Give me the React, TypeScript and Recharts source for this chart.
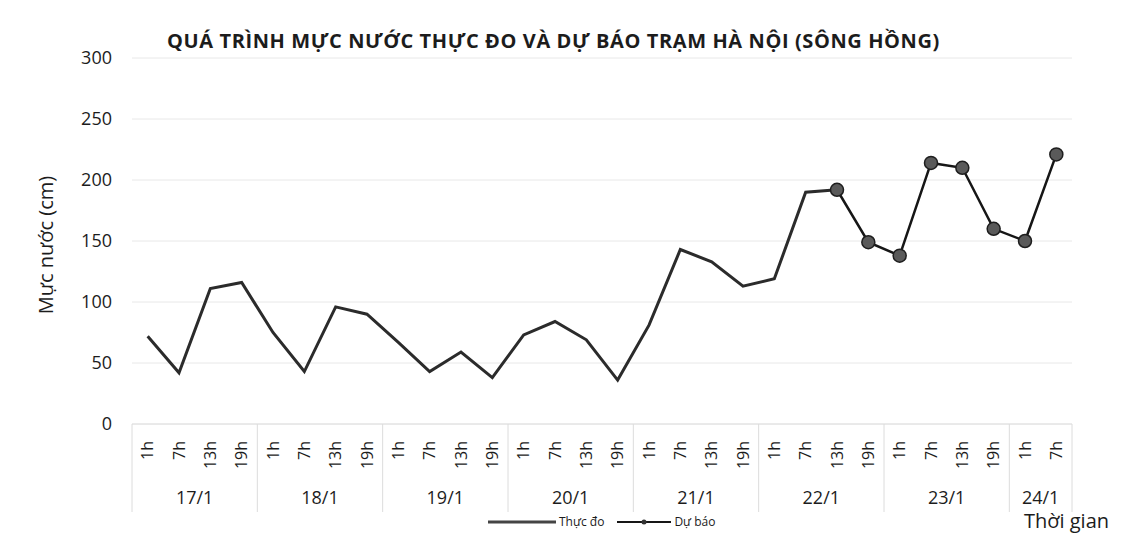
import { LineChart, Line, XAxis, YAxis, CartesianGrid } from "recharts";

// categories (hour of day) grouped by date
const days = ["17/1", "18/1", "19/1", "20/1", "21/1", "22/1", "23/1", "24/1"];
const hoursPerDay = [
  ["1h", "7h", "13h", "19h"],
  ["1h", "7h", "13h", "19h"],
  ["1h", "7h", "13h", "19h"],
  ["1h", "7h", "13h", "19h"],
  ["1h", "7h", "13h", "19h"],
  ["1h", "7h", "13h", "19h"],
  ["1h", "7h", "13h", "19h"],
  ["1h", "7h"],
];

// Thực đo (measured), cm — 17/1 1h .. 22/1 13h
const thucDo = [72, 42, 111, 116, 75, 43, 96, 90, 67, 43, 59, 38, 73, 84, 69, 36, 81, 143, 133, 113, 119, 190, 192];
// Dự báo (forecast), cm — 22/1 13h .. 24/1 7h
const duBao = [192, 149, 138, 214, 210, 160, 150, 221];
const forecastStart = 22;

const yTicks = [0, 50, 100, 150, 200, 250, 300];

const data = days.flatMap((day, d) =>
  hoursPerDay[d].map((hour, h) => ({ key: `${day}-${hour}`, day, hour, first: h === 0, groupSize: hoursPerDay[d].length }))
).map((row, i) => ({
  ...row,
  thucDo: i < thucDo.length ? thucDo[i] : null,
  duBao: i >= forecastStart ? duBao[i - forecastStart] : null,
}));

const W = 1137;
const H = 542;
const PLOT_LEFT = 132;
const PLOT_RIGHT = 1072;
const PLOT_TOP = 58;
const PLOT_BOTTOM = 424;
const PAD = (PLOT_RIGHT - PLOT_LEFT) / data.length / 2;
const STEP = PAD * 2;
const FONT = "'Open Sans', 'DejaVu Sans', sans-serif";
const INK = "#1c1c1c";

function HourTick({ x, index }: { x: number; index: number }) {
  const row = data[index];
  return (
    <g>
      <g transform={`translate(${x},${PLOT_BOTTOM + 17}) rotate(-90)`}>
        <text textAnchor="end" dy="0.36em" fontSize={16} fill={INK} fontFamily={FONT}>{row.hour}</text>
      </g>
      {row.first && (
        <>
          <line x1={x - STEP / 2} x2={x - STEP / 2} y1={PLOT_BOTTOM} y2={PLOT_BOTTOM + 88} stroke="#dcdcdc" strokeWidth={1} />
          <text x={x + ((row.groupSize - 1) / 2) * STEP} y={PLOT_BOTTOM + 74} textAnchor="middle" dy="0.35em" fontSize={18} fill={INK} fontFamily={FONT}>
            {row.day}
          </text>
        </>
      )}
      {index === data.length - 1 && (
        <line x1={x + STEP / 2} x2={x + STEP / 2} y1={PLOT_BOTTOM} y2={PLOT_BOTTOM + 88} stroke="#dcdcdc" strokeWidth={1} />
      )}
    </g>
  );
}

export default function App() {
  return (
    <div style={{ position: "absolute", left: 0, top: 0, width: W, height: H, background: "#fff", fontFamily: FONT }}>
      <div style={{ position: "absolute", left: 0, width: W - 30, top: 27, textAlign: "center", fontSize: 20, fontWeight: 700, color: INK, letterSpacing: 0.6 }}>
        QUÁ TRÌNH MỰC NƯỚC THỰC ĐO VÀ DỰ BÁO TRẠM HÀ NỘI (SÔNG HỒNG)
      </div>
      <div style={{ position: "absolute", left: 45, top: 245, transform: "translate(-50%, -50%) rotate(-90deg)", whiteSpace: "nowrap", fontSize: 20, color: INK }}>
        Mực nước (cm)
      </div>

      <LineChart
        width={W}
        height={H}
        data={data}
        margin={{ top: PLOT_TOP, right: W - PLOT_RIGHT, bottom: 18, left: PLOT_LEFT - 60 }}
        style={{ position: "absolute", left: 0, top: 0 }}
      >
        <CartesianGrid vertical={false} stroke="#e8e8e8" strokeWidth={1} />
        <XAxis
          dataKey="key"
          interval={0}
          height={H - PLOT_BOTTOM - 18}
          padding={{ left: PAD, right: PAD }}
          axisLine={{ stroke: "#e0e0e0" }}
          tickLine={false}
          tick={(p: any) => <HourTick {...p} />}
        />
        <YAxis
          width={60}
          domain={[0, 300]}
          ticks={yTicks}
          axisLine={false}
          tickLine={false}
          tickSize={0}
          tickMargin={20}
          tick={{ fill: INK, fontSize: 18, fontFamily: FONT }}
        />
        <Line type="linear" dataKey="thucDo" stroke="#2b2b2b" strokeWidth={3} dot={false} isAnimationActive={false} connectNulls={false} />
        <Line
          type="linear"
          dataKey="duBao"
          stroke="#161616"
          strokeWidth={2.5}
          dot={{ r: 6.5, fill: "#5a5a5a", stroke: "#1e1e1e", strokeWidth: 1.5 }}
          isAnimationActive={false}
          connectNulls={false}
        />
      </LineChart>

      <div style={{ position: "absolute", left: 488, top: 513, display: "flex", alignItems: "center", gap: 3, fontSize: 12, color: INK }}>
        <svg width="68" height="10"><line x1="0" y1="5" x2="68" y2="5" stroke="#444" strokeWidth="3" /></svg>
        <span>Thực đo</span>
        <svg width="54" height="10" style={{ marginLeft: 10 }}>
          <line x1="0" y1="5" x2="54" y2="5" stroke="#161616" strokeWidth="2" />
          <circle cx="27" cy="5" r="2.5" fill="#333" />
        </svg>
        <span>Dự báo</span>
      </div>
      <div style={{ position: "absolute", left: 1024, top: 507, fontSize: 20, color: INK }}>Thời gian</div>
    </div>
  );
}
